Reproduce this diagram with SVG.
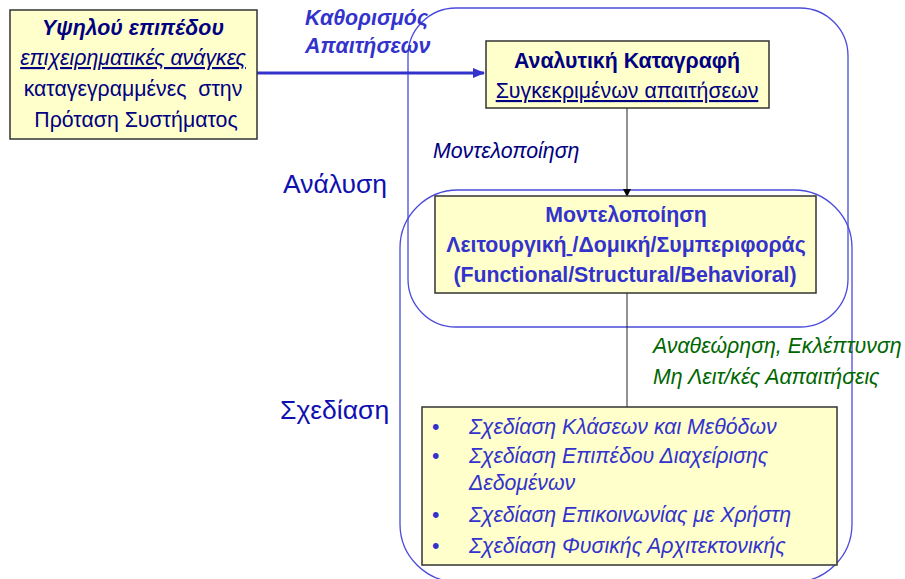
<svg xmlns="http://www.w3.org/2000/svg" width="905" height="579" viewBox="0 0 905 579">
<defs>
<style>
.box{fill:#FFFFCC;stroke:#333333;stroke-width:1.5}
.region{fill:none;stroke:#4B4BDB;stroke-width:1.3}
.t{font-family:"Liberation Sans",Arial,sans-serif;font-size:21.3px}
.navy{fill:#000080}
.blue{fill:#3333CC}
.green{fill:#006600}
.b{font-weight:bold}
.i{font-style:italic}
.u{text-decoration:underline}
.mid{text-anchor:middle}
</style>
<marker id="ah" markerWidth="8" markerHeight="8" refX="7" refY="4" orient="auto" markerUnits="userSpaceOnUse">
<path d="M0,0 L8,4 L0,8 Z" fill="#000"/>
</marker>
<marker id="ahb" markerWidth="12" markerHeight="12" refX="11" refY="6" orient="auto" markerUnits="userSpaceOnUse">
<path d="M0,1 L12,6 L0,11 Z" fill="#3333CC"/>
</marker>
</defs>
<g id="regions">
<rect id="analysis-region" class="region" x="408" y="8" width="440" height="319" rx="48" ry="48"/>
<rect id="design-region" class="region" x="400" y="190" width="452" height="392" rx="58" ry="58"/>
<text class="t" x="283" y="193" style="font-size:26.5px;fill:#1010B0">Ανάλυση</text>
<text class="t" x="280" y="419" style="font-size:26.5px;fill:#1010B0">Σχεδίαση</text>
</g>
<g id="connectors">
<line x1="257" y1="73" x2="484" y2="73" stroke="#3333CC" stroke-width="3" marker-end="url(#ahb)"/>
<line x1="627" y1="108" x2="627" y2="196" stroke="#222" stroke-width="1" marker-end="url(#ah)"/>
<line x1="627" y1="293" x2="627" y2="407" stroke="#222" stroke-width="1"/>
<text class="t b i blue" x="305" y="25">Καθορισμός</text>
<text class="t b i blue" x="305" y="53">Απαιτήσεων</text>
<text class="t i navy" x="433" y="158">Μοντελοποίηση</text>
<text class="t i green" x="653" y="353">Αναθεώρηση, Εκλέπτυνση</text>
<text class="t i green" x="653" y="384">Μη Λειτ/κές Ααπαιτήσεις</text>
</g>
<g id="node-high-level">
<rect class="box" x="10" y="10" width="247" height="129"/>
<text class="t b i navy mid" x="133" y="35">Υψηλού επιπέδου</text>
<text class="t i navy mid u" x="133" y="65">επιχειρηματικές ανάγκες</text>
<text class="t navy mid" x="133" y="96" xml:space="preserve">καταγεγραμμένες  στην</text>
<text class="t navy mid" x="136" y="127">Πρόταση Συστήματος</text>
</g>
<g id="node-analytic">
<rect class="box" x="486" y="41" width="283" height="67"/>
<text class="t b navy mid" x="627" y="68">Αναλυτική Καταγραφή</text>
<text class="t navy mid u" x="627" y="98">Συγκεκριμένων απαιτήσεων</text>
</g>
<g id="node-modeling">
<rect class="box" x="435" y="196" width="381" height="97"/>
<text class="t b blue mid" x="626" y="222">Μοντελοποίηση</text>
<text class="t b blue mid" x="626" y="252" xml:space="preserve">Λειτουργική<tspan class="u"> </tspan>/Δομική/Συμπεριφοράς</text>
<text class="t b blue mid" x="625" y="282">(Functional/Structural/Behavioral)</text>
</g>
<g id="node-design">
<rect class="box" x="422" y="407" width="415" height="158"/>
<g class="t blue">
<text x="432" y="434">•</text>
<text x="432" y="463">•</text>
<text x="432" y="522">•</text>
<text x="432" y="553">•</text>
</g>
<g class="t i blue">
<text x="469" y="434">Σχεδίαση Κλάσεων και Μεθόδων</text>
<text x="469" y="463">Σχεδίαση Επιπέδου Διαχείρισης</text>
<text x="469" y="490">Δεδομένων</text>
<text x="469" y="522">Σχεδίαση Επικοινωνίας με Χρήστη</text>
<text x="469" y="553">Σχεδίαση Φυσικής Αρχιτεκτονικής</text>
</g>
</g>
</svg>
